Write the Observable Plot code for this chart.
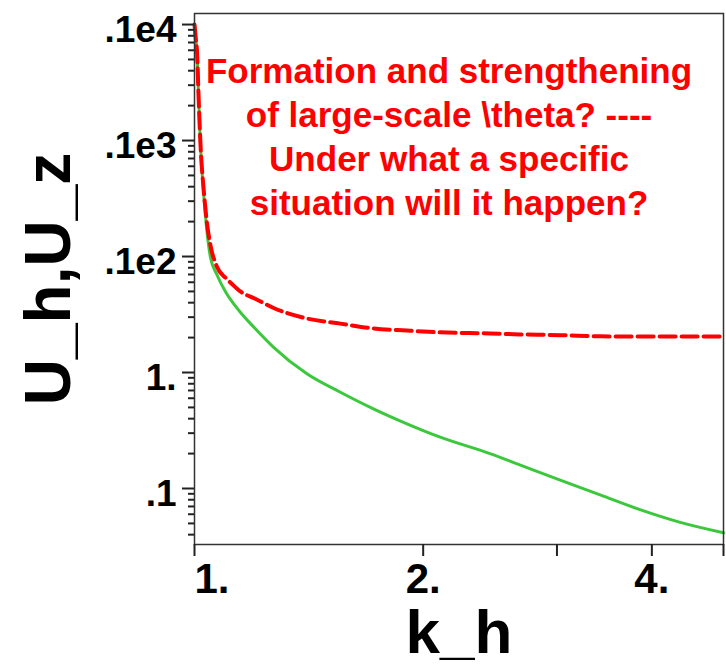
<!DOCTYPE html>
<html>
<head>
<meta charset="utf-8">
<script src="https://cdn.jsdelivr.net/npm/d3@7"></script>
<script src="https://cdn.jsdelivr.net/npm/@observablehq/plot@0.6"></script>
<style>
  html, body { margin: 0; padding: 0; background: #fff; }
</style>
</head>
<body>
<div id="chart"></div>
<script>
// k_h sample positions
const kh = [1.0, 1.004, 1.008, 1.012, 1.016, 1.02, 1.025, 1.03, 1.037, 1.0496, 1.07, 1.1, 1.12, 1.149, 1.2, 1.271, 1.406, 1.556, 1.72, 1.904, 2.106, 2.449, 2.68, 3.03, 3.42, 3.85, 4.36, 4.97];
// U_h (green, solid)
const uh = [1000, 750, 560, 260, 130, 75, 45, 30, 18, 9.8, 7.0, 4.9, 4.1, 3.31, 2.42, 1.65, 0.975, 0.676, 0.486, 0.361, 0.277, 0.2, 0.16, 0.118, 0.088, 0.066, 0.051, 0.0415];
// U_z (red, dashed)
const uz = [1000, 750, 560, 260, 130, 75, 48, 33, 21, 12.5, 8.2, 6.5, 5.8, 5.0, 4.35, 3.6, 2.92, 2.64, 2.40, 2.30, 2.22, 2.17, 2.13, 2.10, 2.05, 2.04, 2.04, 2.04];

const yTicks = [0.1, 1, 10, 100, 1000];
const yTickLabels = [".1", "1.", ".1e2", ".1e3", ".1e4"];
const yMinorMultipliers = [2, 3, 4, 5, 6, 7, 8, 9];
const yDecades = [0.01, 0.1, 1, 10, 100, 1000];
const xTicks = [1, 2, 4];
const xTickLabels = ["1.", "2.", "4."];
const xOtherTicks = [3, 4.97];
const xDomain = [1, 4.97];
const yDomain = [0.0329, 1245];

const annotationLines = [
  "Formation and strengthening",
  "of large-scale \\theta? ----",
  "Under what a specific",
  "situation will it happen?"
];
const xLabel = "k_h";
const yLabel = "U_h,U_z";

const data = kh.map((k, i) => ({k, uh: uh[i], uz: uz[i]}));
const yMinor = yDecades.flatMap(d => yMinorMultipliers.map(m => d * m))
  .filter(v => v > yDomain[0] && v < yDomain[1]);
const yLabelMap = new Map(yTicks.map((t, i) => [t, yTickLabels[i]]));
const xLabelMap = new Map(xTicks.map((t, i) => [t, xTickLabels[i]]));

const W = 726, H = 665, ML = 194, MR = 3, MT = 13, MB = 121;
const frameWidth = W - ML - MR;
const font = "'Liberation Sans', Arial, Helvetica, sans-serif";

const chart = Plot.plot({
  width: W,
  height: H,
  marginLeft: ML,
  marginRight: MR,
  marginTop: MT,
  marginBottom: MB,
  x: {type: "log", domain: xDomain},
  y: {type: "log", domain: yDomain, axis: null},
  style: {fontFamily: font, background: "#fff", color: "#000", overflow: "visible"},
  marks: [
    Plot.line(data, {x: "k", y: "uh", stroke: "#3cc83c", strokeWidth: 3, curve: "monotone-x"}),
    Plot.line(data, {x: "k", y: "uz", stroke: "#ff0000", strokeWidth: 4, strokeDasharray: "16,6", curve: "monotone-x"}),
    Plot.frame({stroke: "#333", strokeWidth: 1.5}),
    // x ticks
    Plot.axisX(xOtherTicks, {tickSize: 12, tickFormat: () => "", stroke: "#222", strokeWidth: 2, label: null}),
    Plot.axisX([2, 4], {tickSize: 12, tickPadding: 7, tickFormat: d => xLabelMap.get(d),
      fontSize: 42, fontWeight: "bold", stroke: "#222", fill: "#000", strokeWidth: 2, label: null}),
    Plot.axisX([1], {tickSize: 12, tickPadding: 7, tickFormat: d => xLabelMap.get(d), textAnchor: "start",
      fontSize: 42, fontWeight: "bold", stroke: "#222", fill: "#000", strokeWidth: 2, label: null}),
    // axis titles
    Plot.text([yLabel], {frameAnchor: "left", textAnchor: "middle", lineAnchor: "middle", text: d => d, rotate: -90, dx: -145,
      fontSize: 64, fontWeight: "bold", fill: "#000"}),
    Plot.text([xLabel], {frameAnchor: "bottom", lineAnchor: "middle", text: d => d, dy: 89,
      fontSize: 62, fontWeight: "bold", fill: "#000"}),
    // annotation
    Plot.text([annotationLines.join("\n")], {frameAnchor: "top", lineAnchor: "top", text: d => d,
      dx: -10, dy: 38, lineHeight: 1.257, fontSize: 35, fontWeight: "bold", fill: "#ff0000", textAnchor: "middle"}),
    // y ticks (outside, to the left of the frame) and their labels, drawn last
    Plot.ruleY(yMinor, {y: d => d, insetLeft: -6, insetRight: frameWidth, stroke: "#222", strokeWidth: 2}),
    Plot.ruleY(yTicks, {y: d => d, insetLeft: -12, insetRight: frameWidth, stroke: "#222", strokeWidth: 2}),
    Plot.text(yTicks, {y: d => d, frameAnchor: "left", textAnchor: "end", text: d => yLabelMap.get(d),
      dx: -18, dy: 6, fontSize: 37, fontWeight: "bold", fill: "#000"})
  ]
});
document.getElementById("chart").appendChild(chart);
</script>
</body>
</html>
